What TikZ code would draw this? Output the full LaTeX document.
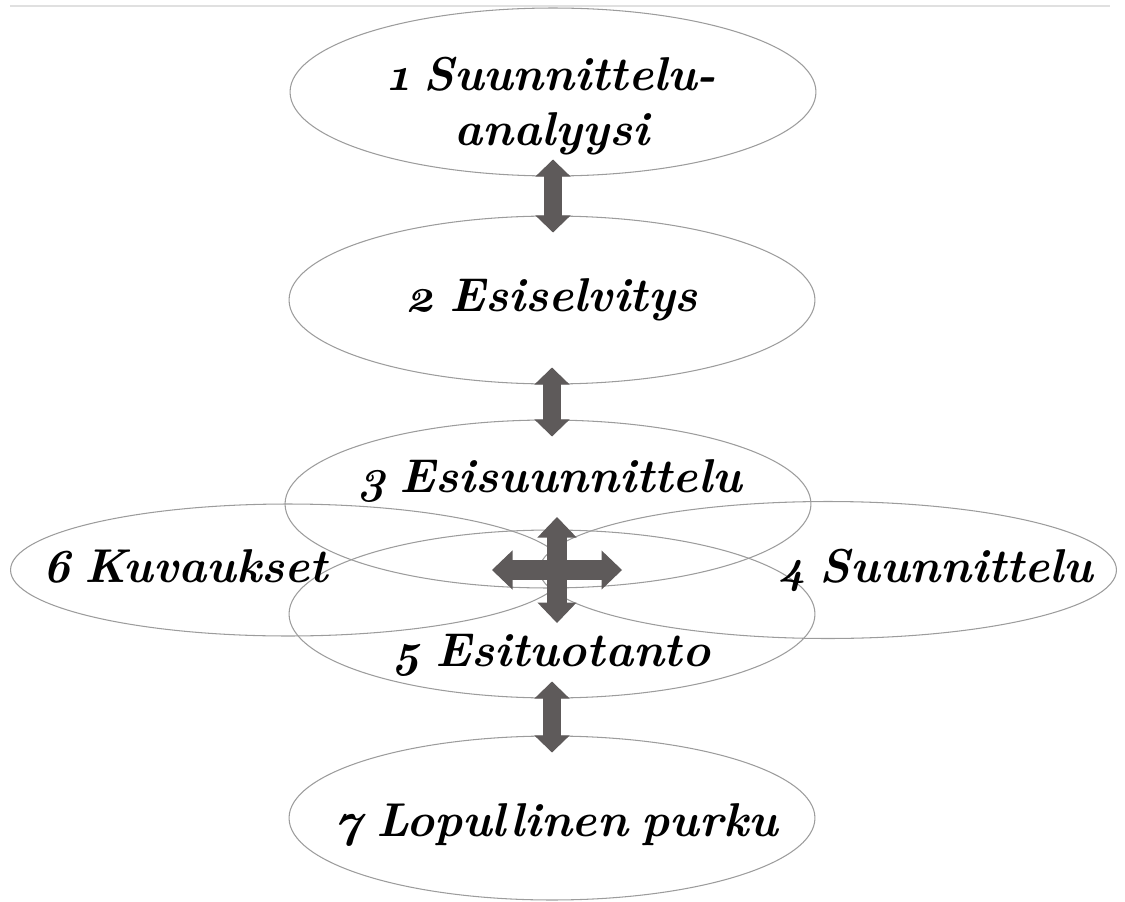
\documentclass[tikz,border=0pt]{standalone}
\usepackage{fontspec}
\setmainfont{Latin Modern Roman}[Numbers=OldStyle,WordSpace=0.7]
\usetikzlibrary{arrows.meta,calc,positioning,shapes.geometric}
\definecolor{arrowgray}{HTML}{5E5A5A}
\definecolor{rimgray}{HTML}{9C9C9C}

\begin{document}
\begin{tikzpicture}[x=0.02cm,y=-0.02cm,
    phase/.style={ellipse,draw=rimgray,line width=0.6pt,inner sep=0pt,minimum width=10.52cm,minimum height=3.36cm},
    caption/.style={font=\fontsize{27}{31}\selectfont\bfseries\itshape,anchor=base,align=center,inner sep=0pt},
    link/.style={draw=arrowgray,line width=0.36cm,
      {Triangle[length=0.34cm,width=0.7cm,line width=0.6pt]}-{Triangle[length=0.34cm,width=0.7cm,line width=0.6pt]},
      shorten <=-0.34cm,shorten >=-0.34cm},
    crossarrow/.style={draw=arrowgray,line width=0.4cm,
      {Triangle[length=0.41cm,width=0.78cm,line width=0.6pt]}-{Triangle[length=0.41cm,width=0.78cm,line width=0.6pt]}}]
  \useasboundingbox (0,0) rectangle (1125,902);
  \draw[line width=1.1pt,black!12] (10,6) -- (1110,6);
  % phases
  \node[phase] (e1) at (553,92) {};
  \node[phase] (e2) at (552,300) {};
  \node[phase] (e3) at (548,504) {};
  \node[phase,minimum width=11.1cm,minimum height=2.64cm] (e6) at (288,570) {};
  \node[phase,minimum width=11.54cm,minimum height=2.74cm] (e4) at (828,570) {};
  \node[phase] (e5) at (552,614) {};
  \node[phase,minimum height=3.28cm] (e7) at (552,818) {};
  % arrows between phases
  \path[link] (e1.south) -- (e1.south |- e2.north);
  \path[link] (e2.south) -- (e2.south |- e3.north);
  \path[link] (e5.south) -- (e5.south |- e7.north);
  \coordinate (hub) at (557,570);
  \foreach \n/\dx/\dy in {n/0/-53,s/0/53,w/-65/0,e/65/0}
    \coordinate (hub\n) at ($(hub)+(\dx,\dy)$);
  \path[crossarrow] (hubn) -- (hubs);
  \path[crossarrow] (hubw) -- (hube);
  % labels
  \node[caption,anchor=center] (t1) at (552,106) {1 Suunnittelu-\\analyysi};
  \node[caption] (t2) at (552,311) {2 Esiselvitys};
  \node[caption] (t3) at (550,492) {3 Esisuunnittelu};
  \node[caption] (t6) at (185,582) {6 Kuvaukset};
  \node[caption] (t4) at (936,582) {4 Suunnittelu};
  \node[caption] (t5) at (552,666) {5 Esituotanto};
  \node[caption] (t7) at (556,836) {7 Lopullinen purku};
\end{tikzpicture}
\end{document}
